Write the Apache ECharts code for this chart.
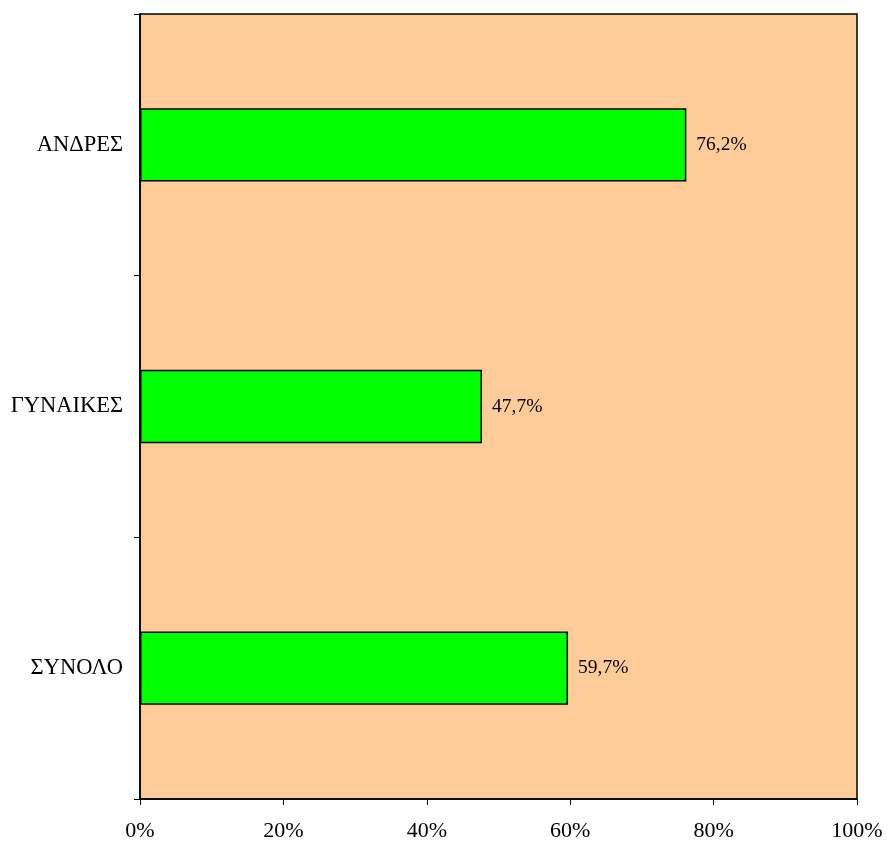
<!DOCTYPE html>
<html><head><meta charset="utf-8">
<script src="https://cdn.jsdelivr.net/npm/echarts@6/dist/echarts.min.js"></script>
<style>html,body{margin:0;padding:0;background:#fff}#c{width:887px;height:841px}</style>
</head><body><div id="c"></div>
<script>
const categories = ['ΣΥΝΟΛΟ', 'ΓΥΝΑΙΚΕΣ', 'ΑΝΔΡΕΣ'];
const values = [59.7, 47.7, 76.2];
const xTicks = [0, 20, 40, 60, 80, 100];

const chart = echarts.init(document.getElementById('c'), null, {renderer: 'canvas'});
const font = '"Liberation Serif", "DejaVu Serif", serif';
chart.setOption({
  animation: false,
  textStyle: {fontFamily: font},
  grid: {left: 140, top: 14, width: 717, height: 785, show: true, containLabel: false,
         outerBoundsMode: 'none',
         backgroundColor: '#FFCC99', borderColor: '#000', borderWidth: 1.5},
  xAxis: {type: 'value', min: xTicks[0], max: xTicks[xTicks.length-1], interval: 20,
    axisLine: {show: true, lineStyle: {color: '#000', width: 1.5}},
    axisTick: {show: true, inside: false, length: 6, lineStyle: {color: '#000'}},
    splitLine: {show: false},
    axisLabel: {formatter: v => v + '%', color: '#000', fontSize: 22, fontFamily: font, margin: 21}
  },
  yAxis: {type: 'category', data: categories,
    axisLine: {show: true, lineStyle: {color: '#000', width: 1.5}},
    axisTick: {show: true, inside: false, length: 6, alignWithLabel: false, lineStyle: {color: '#000'}},
    axisLabel: {color: '#000', fontSize: 22.5, fontFamily: font, margin: 17}
  },
  series: [{type: 'bar', data: values, barWidth: '28%',
    itemStyle: {color: '#00FF00', borderColor: '#000', borderWidth: 1.5},
    label: {show: true, position: 'right', distance: 10, color: '#000', fontSize: 19.5, fontFamily: font,
      formatter: p => p.value.toFixed(1).replace('.', ',') + '%'}
  }]
});
</script></body></html>
